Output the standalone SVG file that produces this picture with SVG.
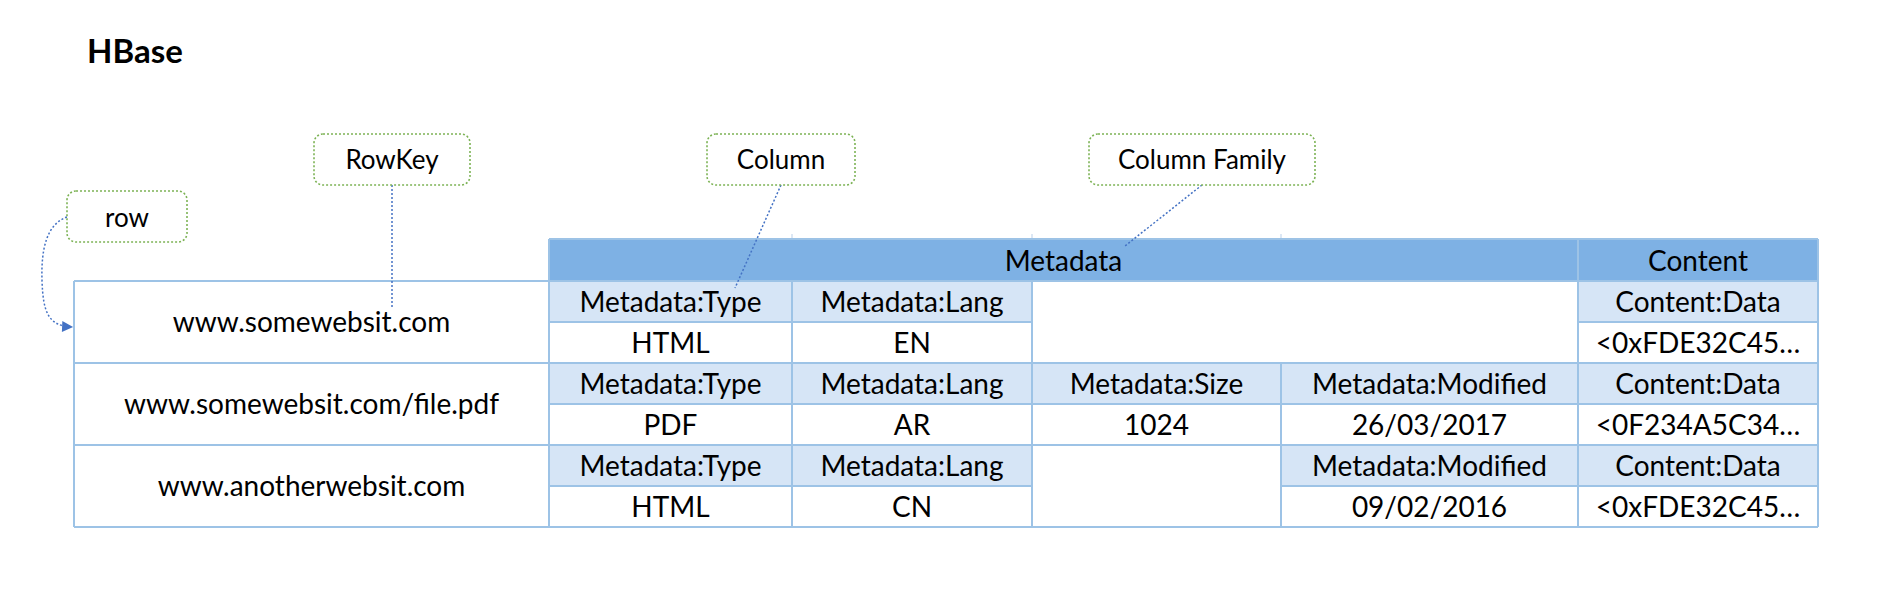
<svg xmlns="http://www.w3.org/2000/svg" width="1881" height="600" viewBox="0 0 1881 600">
<defs>
<style>
.t{font-family:Lato,"Open Sans","Liberation Sans",sans-serif;font-size:28px;fill:#000;text-anchor:middle}
.lt{font-family:Lato,"Open Sans","Liberation Sans",sans-serif;font-size:26px;fill:#000;text-anchor:middle}
.hd{fill:#7EB1E4}
.sh{fill:#D6E5F6}
.g{stroke:#9DC3E6;stroke-width:2;fill:none}
.tick{stroke:#D0DFF0;stroke-width:1.5}
.box{fill:#fff;stroke:#7DB356;stroke-width:1.6;stroke-dasharray:2 2}
.con{fill:none;stroke:#4472C4;stroke-width:1.5;stroke-dasharray:2 2}
</style>
<marker id="arr" viewBox="0 0 10 10" refX="9" refY="5" markerWidth="13" markerHeight="11" markerUnits="userSpaceOnUse" orient="auto">
<path d="M0,0 L10,5 L0,10 z" fill="#4472C4"/>
</marker>
</defs>
<rect width="1881" height="600" fill="#fff"/>
<text x="87" y="63" font-family="Lato,'Open Sans','Liberation Sans',sans-serif" font-weight="bold" font-size="33" fill="#000">HBase</text>

<g id="table">
<rect class="hd" x="549" y="239" width="1269" height="42"/>
<rect class="sh" x="549" y="281" width="483" height="41"/>
<rect class="sh" x="1578" y="281" width="240" height="41"/>
<rect class="sh" x="549" y="363" width="1269" height="41"/>
<rect class="sh" x="549" y="445" width="483" height="41"/>
<rect class="sh" x="1281" y="445" width="537" height="41"/>
<g class="tick">
<line x1="792" y1="234" x2="792" y2="239"/>
<line x1="1032" y1="234" x2="1032" y2="239"/>
<line x1="1281" y1="234" x2="1281" y2="239"/>
</g>
<g class="g">
<path d="M549,239H1818M74,281H1818M549,322H1032M1578,322H1818M74,363H1818M549,404H1818M74,445H1818M549,486H1032M1281,486H1818M74,527H1818"/>
<path d="M74,281V527M549,239V527M792,281V527M1032,281V527M1281,363V527M1578,239V527M1818,239V527"/>
</g>
<text class="t" x="1063.5" y="271">Metadata</text>
<text class="t" x="1698" y="271">Content</text>
<text class="t" x="311.5" y="332">www.somewebsit.com</text>
<text class="t" x="311.5" y="414">www.somewebsit.com/file.pdf</text>
<text class="t" x="311.5" y="496">www.anotherwebsit.com</text>
<text class="t" x="670.5" y="312">Metadata:Type</text>
<text class="t" x="912" y="312">Metadata:Lang</text>
<text class="t" x="1698" y="312">Content:Data</text>
<text class="t" x="670.5" y="353">HTML</text>
<text class="t" x="912" y="353">EN</text>
<text class="t" x="1698" y="353">&lt;0xFDE32C45…</text>
<text class="t" x="670.5" y="394">Metadata:Type</text>
<text class="t" x="912" y="394">Metadata:Lang</text>
<text class="t" x="1156.5" y="394">Metadata:Size</text>
<text class="t" x="1429.5" y="394">Metadata:Modified</text>
<text class="t" x="1698" y="394">Content:Data</text>
<text class="t" x="670.5" y="435">PDF</text>
<text class="t" x="912" y="435">AR</text>
<text class="t" x="1156.5" y="435">1024</text>
<text class="t" x="1429.5" y="435">26/03/2017</text>
<text class="t" x="1698" y="435">&lt;0F234A5C34…</text>
<text class="t" x="670.5" y="476">Metadata:Type</text>
<text class="t" x="912" y="476">Metadata:Lang</text>
<text class="t" x="1429.5" y="476">Metadata:Modified</text>
<text class="t" x="1698" y="476">Content:Data</text>
<text class="t" x="670.5" y="517">HTML</text>
<text class="t" x="912" y="517">CN</text>
<text class="t" x="1429.5" y="517">09/02/2016</text>
<text class="t" x="1698" y="517">&lt;0xFDE32C45…</text>
</g>

<g id="connectors">
<path class="con" d="M392,185V308"/>
<path class="con" d="M781,185L735,288"/>
<path class="con" d="M1202,185L1125,246"/>
<path class="con" d="M67,217C47,224 41,248 42,280C43,312 48,326 72,327" marker-end="url(#arr)"/>
</g>

<g id="row">
<rect class="box" x="67" y="191" width="120" height="51" rx="9"/>
<text class="lt" x="127" y="227">row</text>
</g>
<g id="rowkey">
<rect class="box" x="314" y="134" width="156" height="51" rx="9"/>
<text class="lt" x="392" y="169">RowKey</text>
</g>
<g id="column">
<rect class="box" x="707" y="134" width="148" height="51" rx="9"/>
<text class="lt" x="781" y="169">Column</text>
</g>
<g id="columnfamily">
<rect class="box" x="1089" y="134" width="226" height="51" rx="9"/>
<text class="lt" x="1202" y="169">Column Family</text>
</g>
</svg>
